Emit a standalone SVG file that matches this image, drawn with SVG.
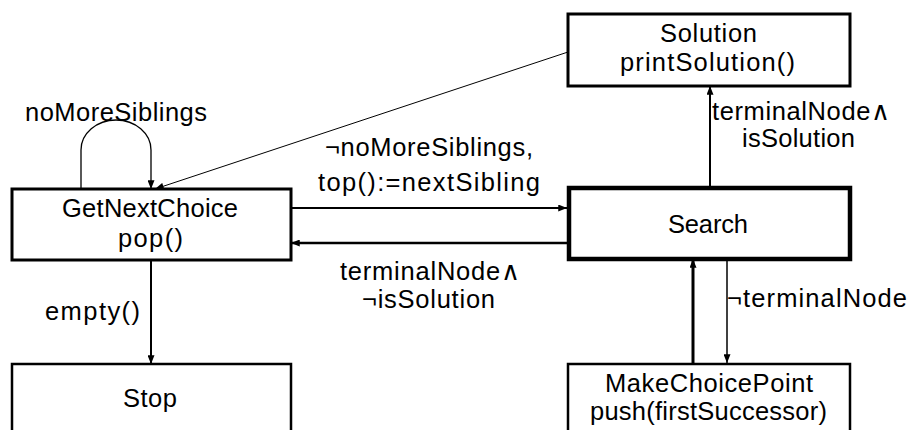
<svg xmlns="http://www.w3.org/2000/svg" width="912" height="430" viewBox="0 0 912 430">
  <defs>
    <marker id="arrow" viewBox="0 0 10 8" refX="10" refY="4" markerWidth="9" markerHeight="7" markerUnits="userSpaceOnUse" orient="auto">
      <path d="M0,0 L10,4 L0,8 Z" fill="#000"/>
    </marker>
  </defs>
  <style>
    text { font-family: "Liberation Sans", Arial, sans-serif; font-size: 25.5px; fill: #000; }
    .box { fill: #fff; stroke: #000; }
    .edge { fill: none; stroke: #000; }
  </style>
  <rect width="912" height="430" fill="#fff"/>

  <!-- connectors -->
  <g id="connectors">
    <path class="edge" d="M81,189 V150 A35,30 0 0 1 151,150 V189" stroke-width="1.3" marker-end="url(#arrow)"/>
    <path class="edge" d="M568,52 L155,189" stroke-width="1" marker-end="url(#arrow)"/>
    <path class="edge" d="M291,208 H567" stroke-width="2" marker-end="url(#arrow)"/>
    <path class="edge" d="M567,243 H291" stroke-width="2.3" marker-end="url(#arrow)"/>
    <path class="edge" d="M710,186 V86" stroke-width="2" marker-end="url(#arrow)"/>
    <path class="edge" d="M151,260 V364" stroke-width="2" marker-end="url(#arrow)"/>
    <path class="edge" d="M693,363 V259" stroke-width="3" marker-end="url(#arrow)"/>
    <path class="edge" d="M727,259 V363" stroke-width="1.5" marker-end="url(#arrow)"/>

    <text x="25" y="121" textLength="182">noMoreSiblings</text>
    <text x="325" y="156" textLength="208">¬noMoreSiblings,</text>
    <text x="318" y="191" textLength="222">top():=nextSibling</text>
    <text x="340" y="280" textLength="180">terminalNode∧</text>
    <text x="362" y="308" textLength="133">¬isSolution</text>
    <text x="712" y="120" textLength="178">terminalNode∧</text>
    <text x="742" y="147" textLength="113">isSolution</text>
    <text x="727" y="307" textLength="180">¬terminalNode</text>
    <text x="45" y="320" textLength="95">empty()</text>
  </g>

  <!-- nodes -->
  <g id="solution">
    <rect class="box" x="568" y="14" width="282" height="72" stroke-width="3"/>
    <text x="660" y="42" textLength="97">Solution</text>
    <text x="620" y="71" textLength="175">printSolution()</text>
  </g>
  <g id="get-next-choice">
    <rect class="box" x="12" y="189" width="279" height="71" stroke-width="3"/>
    <text x="62" y="217" textLength="176">GetNextChoice</text>
    <text x="118" y="247" textLength="65">pop()</text>
  </g>
  <g id="search">
    <rect class="box" x="569" y="188" width="281" height="71" stroke-width="4.5"/>
    <text x="668" y="233" textLength="80">Search</text>
  </g>
  <g id="stop">
    <rect class="box" x="12" y="364" width="279" height="80" stroke-width="2.5"/>
    <text x="123" y="407" textLength="54">Stop</text>
  </g>
  <g id="make-choice-point">
    <rect class="box" x="568" y="364" width="282" height="80" stroke-width="2.5"/>
    <text x="605" y="392" textLength="208">MakeChoicePoint</text>
    <text x="590" y="420" textLength="237">push(firstSuccessor)</text>
  </g>
</svg>
